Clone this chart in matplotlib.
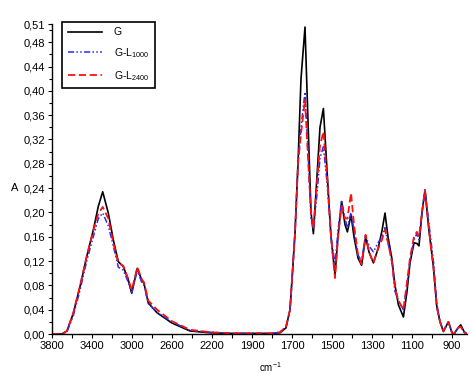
import numpy as np
import matplotlib
matplotlib.use("Agg")
import matplotlib.pyplot as plt
from matplotlib.ticker import FixedLocator, MultipleLocator

plt.rcParams['font.family'] = ['Liberation Sans Narrow', 'Liberation Sans', 'DejaVu Sans']

wavenumber = [3800, 3700, 3650, 3587, 3520, 3453, 3387, 3337, 3293, 3237, 3187, 3137, 3087,
              3037, 3003, 2947, 2903, 2880, 2837, 2750, 2600, 2420, 2220, 2000, 1800, 1760,
              1730, 1710, 1700, 1685, 1670, 1655, 1635, 1620, 1605, 1593, 1575, 1560, 1543,
              1525, 1505, 1485, 1470, 1452, 1435, 1423, 1405, 1390, 1370, 1352, 1332, 1315,
              1293, 1270, 1250, 1235, 1220, 1201, 1185, 1168, 1143, 1125, 1110, 1090, 1076,
              1065, 1050, 1035, 1015, 993, 976, 960, 943, 918, 900, 890, 870, 856, 840, 825]
G = [0, 0, 0.005, 0.034, 0.078, 0.127, 0.171, 0.21, 0.234, 0.199, 0.155, 0.119, 0.111,
     0.089, 0.067, 0.108, 0.089, 0.083, 0.051, 0.035, 0.018, 0.005, 0.002, 0.001, 0.001, 0.002,
     0.01, 0.04, 0.089, 0.166, 0.28, 0.42, 0.505, 0.35, 0.2, 0.165, 0.26, 0.34, 0.371,
     0.27, 0.16, 0.097, 0.16, 0.218, 0.18, 0.168, 0.196, 0.16, 0.125, 0.113, 0.16, 0.135,
     0.117, 0.14, 0.17, 0.199, 0.16, 0.125, 0.08, 0.048, 0.028, 0.07, 0.117, 0.15, 0.149,
     0.145, 0.2, 0.237, 0.17, 0.111, 0.045, 0.02, 0.004, 0.02, 0.002, 0, 0.01, 0.015, 0.004, 0]
GL1000 = [0, 0, 0.004, 0.03, 0.072, 0.12, 0.16, 0.19, 0.199, 0.178, 0.145, 0.11, 0.105,
          0.085, 0.068, 0.105, 0.085, 0.08, 0.05, 0.036, 0.02, 0.006, 0.003, 0.001, 0.001, 0.003,
          0.012, 0.04, 0.089, 0.166, 0.28, 0.34, 0.398, 0.30, 0.19, 0.174, 0.23, 0.29, 0.308,
          0.25, 0.16, 0.115, 0.17, 0.22, 0.19, 0.175, 0.2, 0.17, 0.13, 0.12, 0.163, 0.145,
          0.135, 0.15, 0.16, 0.175, 0.15, 0.12, 0.07, 0.055, 0.04, 0.08, 0.12, 0.155, 0.165,
          0.155, 0.2, 0.237, 0.18, 0.12, 0.05, 0.02, 0.006, 0.02, 0.003, 0, 0.01, 0.012, 0.003, 0]
GL2400 = [0, 0, 0.005, 0.035, 0.079, 0.128, 0.17, 0.198, 0.209, 0.19, 0.15, 0.117, 0.112,
          0.09, 0.072, 0.11, 0.09, 0.085, 0.055, 0.04, 0.021, 0.007, 0.003, 0.001, 0.001, 0.003,
          0.012, 0.04, 0.089, 0.166, 0.28, 0.33, 0.385, 0.29, 0.2, 0.174, 0.25, 0.31, 0.333,
          0.26, 0.16, 0.092, 0.16, 0.21, 0.19, 0.19, 0.232, 0.18, 0.13, 0.115, 0.163, 0.135,
          0.117, 0.14, 0.155, 0.172, 0.15, 0.12, 0.075, 0.055, 0.04, 0.085, 0.125, 0.16, 0.168,
          0.16, 0.2, 0.237, 0.17, 0.11, 0.045, 0.02, 0.005, 0.02, 0.002, 0, 0.01, 0.012, 0.003, 0]

labels = ["G", "G-L$_{\\mathregular{1000}}$", "G-L$_{\\mathregular{2400}}$"]
x_tick_values = [3800, 3600, 3400, 3200, 3000, 2800, 2600, 2400, 2200, 2000, 1900, 1800, 1700,
                 1600, 1500, 1400, 1300, 1200, 1100, 1000, 900]
x_tick_labels = ["3800", "", "3400", "", "3000", "", "2600", "", "2200", "", "1900", "", "1700",
                 "", "1500", "", "1300", "", "1100", "", "900"]
y_tick_values = [0.00, 0.04, 0.08, 0.12, 0.16, 0.20, 0.24, 0.28, 0.32, 0.36, 0.40, 0.44, 0.48, 0.51]


def fwd(x):
    x = np.asarray(x, dtype=float)
    return np.where(x > 2000, 2000 + (x - 2000) / 2.0, x)


def inv(t):
    t = np.asarray(t, dtype=float)
    return np.where(t > 2000, 2000 + (t - 2000) * 2.0, t)


fig = plt.figure(figsize=(4.71, 3.73), dpi=100)
ax = fig.add_axes([52 / 471, 1 - 334 / 373, 415 / 471, 310 / 373])
ax.set_xscale('function', functions=(fwd, inv))

ax.plot(wavenumber, G, color='black', lw=1.2, label=labels[0])
ax.plot(wavenumber, GL1000, color='#2a2aff', lw=1.1,
        linestyle=(0, (4, 1.5, 1, 1.5, 1, 1.5)), label=labels[1])
ax.plot(wavenumber, GL2400, color='#ff1010', lw=1.3, linestyle=(0, (4, 2)), label=labels[2])

ax.set_xlim(3800, 825)
ax.set_ylim(0, 0.51)

for s in ['top', 'right']:
    ax.spines[s].set_visible(False)
for s in ['left', 'bottom']:
    ax.spines[s].set_linewidth(1.0)

ax.set_xticks(x_tick_values)
ax.set_xticklabels(x_tick_labels)
ax.xaxis.set_minor_locator(FixedLocator([]))
ax.set_yticks(y_tick_values)
ax.set_yticklabels([f"{v:.2f}".replace('.', ',') for v in y_tick_values])
ax.yaxis.set_minor_locator(MultipleLocator(0.02))
ax.tick_params(axis='both', which='major', labelsize=8, length=3, width=0.8, pad=2)
ax.tick_params(axis='y', which='minor', length=2, width=0.8)

leg = ax.legend(loc='upper left', bbox_to_anchor=(0.024, 1.008), borderaxespad=0,
                prop={'size': 7.5}, handlelength=3.3, handletextpad=1.1, labelspacing=0.85,
                fancybox=False, edgecolor='black', framealpha=1, borderpad=0.55)
leg.get_frame().set_linewidth(1.2)

fig.text(15 / 471, 1 - 188 / 373, "A", fontsize=8, ha='center', va='center')
fig.text(270 / 471, 0.004, "cm$^{\\mathregular{-1}}$", fontsize=7, ha='center', va='baseline')

fig.savefig("out.png", dpi=100)
